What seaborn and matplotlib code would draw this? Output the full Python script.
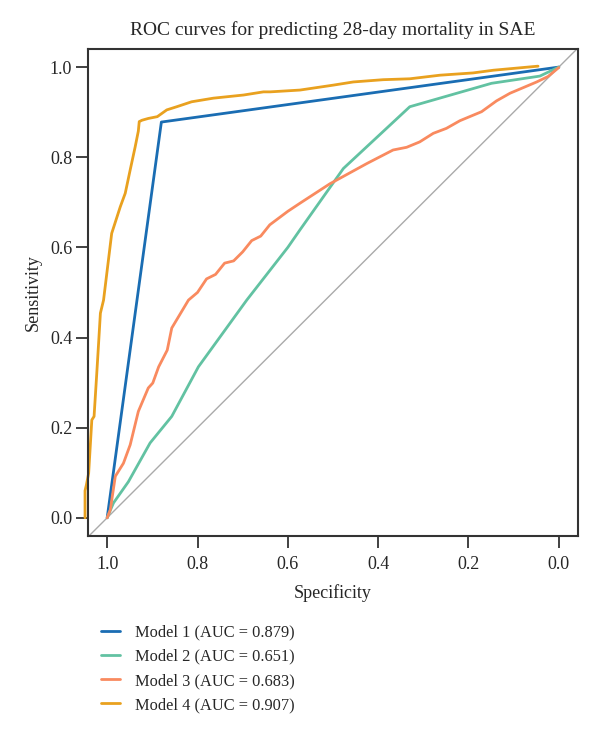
import matplotlib
matplotlib.use("Agg")
import matplotlib.pyplot as plt
import seaborn as sns
import pandas as pd

# ROC points (specificity, sensitivity)
m1_spec = [1.0, 0.88, 0.0]
m1_sens = [0.0, 0.878, 1.0]

m2_spec = [1.0, 0.986, 0.953, 0.905, 0.857, 0.798, 0.691, 0.60, 0.573, 0.477, 0.330, 0.149, 0.042, 0.0]
m2_sens = [0.0, 0.033, 0.080, 0.166, 0.225, 0.335, 0.483, 0.60, 0.639, 0.775, 0.912, 0.964, 0.980, 1.0]

m3_spec = [1.0, 0.993, 0.982, 0.964, 0.949, 0.931, 0.909, 0.899, 0.886, 0.867, 0.857, 0.820,
           0.80, 0.78, 0.76, 0.74, 0.72, 0.70, 0.68, 0.66, 0.64, 0.60, 0.573, 0.507, 0.425,
           0.367, 0.337, 0.308, 0.278, 0.249, 0.219, 0.171, 0.138, 0.108, 0.049, 0.024, 0.0]
m3_sens = [0.0, 0.018, 0.092, 0.121, 0.162, 0.236, 0.288, 0.299, 0.335, 0.372, 0.421, 0.483,
           0.50, 0.53, 0.54, 0.565, 0.57, 0.59, 0.615, 0.625, 0.65, 0.68, 0.698, 0.741, 0.786,
           0.816, 0.822, 0.834, 0.853, 0.864, 0.881, 0.901, 0.925, 0.942, 0.967, 0.979, 0.999]

m4_spec = [1.049, 1.049, 1.046, 1.041, 1.034, 1.029, 1.023, 1.019, 1.015, 1.008, 0.990, 0.971,
           0.960, 0.949, 0.938, 0.931, 0.929, 0.923, 0.909, 0.889, 0.868, 0.846, 0.813, 0.765,
           0.698, 0.654, 0.639, 0.573, 0.499, 0.455, 0.389, 0.330, 0.263, 0.190, 0.145, 0.101, 0.046]
m4_sens = [0.0, 0.060, 0.073, 0.099, 0.217, 0.225, 0.321, 0.387, 0.454, 0.483, 0.631, 0.690,
           0.720, 0.772, 0.823, 0.858, 0.879, 0.882, 0.886, 0.890, 0.905, 0.912, 0.923, 0.931,
           0.938, 0.945, 0.945, 0.949, 0.960, 0.967, 0.972, 0.974, 0.982, 0.987, 0.993, 0.997, 1.002]

labels = ["Model 1 (AUC = 0.879)", "Model 2 (AUC = 0.651)",
          "Model 3 (AUC = 0.683)", "Model 4 (AUC = 0.907)"]
colors = ["#1a6db3", "#62c2a2", "#f98a5f", "#e9a11f"]

rows = []
for lab, sp, se in zip(labels, [m1_spec, m2_spec, m3_spec, m4_spec],
                       [m1_sens, m2_sens, m3_sens, m4_sens]):
    for i, (a, b) in enumerate(zip(sp, se)):
        rows.append({"model": lab, "order": i, "spec": a, "sens": b})
df = pd.DataFrame(rows)

sns.set_style("ticks")
plt.rcParams["font.family"] = ["Liberation Serif", "DejaVu Serif"]

fig = plt.figure(figsize=(6, 7.32), dpi=100)
ax = fig.add_axes([0.147, 0.268, 0.816, 0.665])

ax.axline((1, 0), (0, 1), color="#aaaaaa", lw=1, zorder=1)
sns.lineplot(data=df, x="spec", y="sens", hue="model", palette=colors,
             sort=False, estimator=None, lw=2, ax=ax, clip_on=False)

ax.set_xlim(1.042, -0.042)
ax.set_ylim(-0.04, 1.04)
ax.set_xticks([1.0, 0.8, 0.6, 0.4, 0.2, 0.0])
ax.set_yticks([0.0, 0.2, 0.4, 0.6, 0.8, 1.0])
ax.set_xticklabels(["1.0", "0.8", "0.6", "0.4", "0.2", "0.0"])
ax.set_yticklabels(["0.0", "0.2", "0.4", "0.6", "0.8", "1.0"])
ax.tick_params(labelsize=13, length=8.5, width=1.3, color="#333333", direction="out", pad=3)
ax.tick_params(axis="x", pad=6)
for s in ax.spines.values():
    s.set_color("#333333")
    s.set_linewidth(1.5)

ax.set_xlabel("Specificity", fontsize=13, labelpad=8)
ax.set_ylabel("Sensitivity", fontsize=13, labelpad=6)
ax.set_title("ROC curves for predicting 28-day mortality in SAE", fontsize=14, pad=10)

sns.move_legend(ax, "upper left", bbox_to_anchor=(-0.005, -0.152), frameon=False,
                title=None, fontsize=11.8, handlelength=1.2, handletextpad=0.9,
                labelspacing=0.5)

fig.savefig("out.png", dpi=100)
